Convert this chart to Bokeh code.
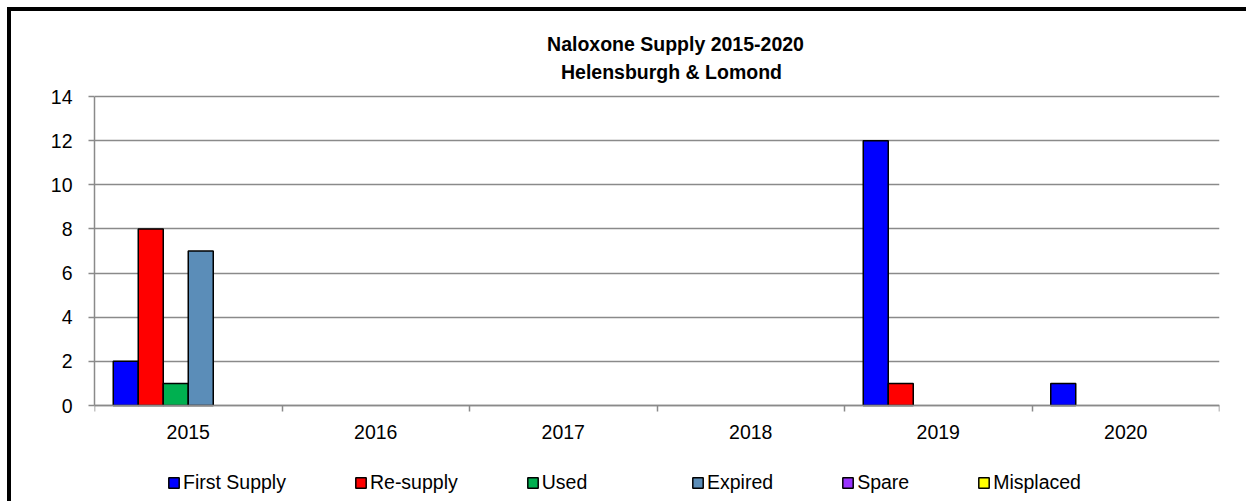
from bokeh.plotting import figure
from bokeh.models import (Range1d, FixedTicker, LinearAxis, Legend, LegendItem, Label,
                          ColumnDataSource, Grid)
from bokeh.embed import file_html
from bokeh.resources import INLINE

title_lines = ["Naloxone Supply 2015-2020", "Helensburgh & Lomond"]
years = ["2015", "2016", "2017", "2018", "2019", "2020"]
series_names = ["First Supply", "Re-supply", "Used", "Expired", "Spare", "Misplaced"]
first_supply = [2, 0, 0, 0, 12, 1]
re_supply = [8, 0, 0, 0, 1, 0]
used = [1, 0, 0, 0, 0, 0]
expired = [7, 0, 0, 0, 0, 0]
spare = [0, 0, 0, 0, 0, 0]
misplaced = [0, 0, 0, 0, 0, 0]
y_ticks = [0, 2, 4, 6, 8, 10, 12, 14]
y_max = 14

series_values = [first_supply, re_supply, used, expired, spare, misplaced]
colors = ["#0000FF", "#FF0000", "#00B050", "#5B8DB8", "#9933FF", "#FFFF00"]

FONT = "Liberation Sans"
GRID = "#8a8a8a"

# layout (pixels): plot area 309 px tall for 0..14, with room above for the
# title (85 px) and below for labels and legend (96 px), all inside the frame
PLOT_H, ABOVE, BELOW = 309, 85, 96
lo = -y_max * BELOW / PLOT_H
hi = y_max * (PLOT_H + ABOVE) / PLOT_H
frame_h = PLOT_H + ABOVE + BELOW

p = figure(frame_width=1125, frame_height=frame_h, output_backend="svg",
           toolbar_location=None,
           x_range=Range1d(0, len(years)), y_range=Range1d(lo, hi),
           x_axis_type=None, y_axis_type=None,
           min_border_left=83, min_border_right=27, min_border_top=0, min_border_bottom=0)
p.title = None
p.styles = {"border-top": "4px solid black", "border-left": "4px solid black",
            "margin-top": "7px", "margin-left": "7px"}
p.outline_line_color = None
p.background_fill_color = "white"
p.border_fill_color = "white"

yaxis = LinearAxis(ticker=FixedTicker(ticks=y_ticks), bounds=(0, y_max))
yaxis.axis_line_color = GRID
yaxis.axis_line_width = 1.5
yaxis.major_tick_line_color = GRID
yaxis.major_tick_line_width = 1.5
yaxis.major_tick_out = 6
yaxis.major_tick_in = 0
yaxis.minor_tick_line_color = None
yaxis.major_label_text_font = FONT
yaxis.major_label_text_font_size = "19.5px"
yaxis.major_label_text_color = "black"
yaxis.major_label_standoff = 16
p.add_layout(yaxis, "left")

centers = [i + 0.5 for i in range(len(years))]
boundaries = list(range(len(years) + 1))
xaxis = LinearAxis(ticker=FixedTicker(ticks=centers, minor_ticks=boundaries), fixed_location=0)
xaxis.major_label_overrides = {c: y for c, y in zip(centers, years)}
xaxis.axis_line_color = GRID
xaxis.axis_line_width = 1.5
xaxis.major_tick_line_color = None
xaxis.major_tick_out = 6
xaxis.major_tick_in = 0
xaxis.minor_tick_line_color = GRID
xaxis.minor_tick_line_width = 1.5
xaxis.minor_tick_out = 6
xaxis.minor_tick_in = 0
xaxis.major_label_text_font = FONT
xaxis.major_label_text_font_size = "19.5px"
xaxis.major_label_text_color = "black"
xaxis.major_label_standoff = 13
p.add_layout(xaxis, "below")

ygrid = Grid(dimension=1, ticker=FixedTicker(ticks=y_ticks), grid_line_color=GRID, grid_line_width=1.5)
p.add_layout(ygrid)

# zero values draw no bar (as in the original): their top is left undefined
bar_w = 0.8 / len(series_names)
items = []
for k, (name, vals, col) in enumerate(zip(series_names, series_values, colors)):
    xs = [c + (k - (len(series_names) - 1) / 2) * bar_w for c in centers]
    tops = [v if v != 0 else float("nan") for v in vals]
    src = ColumnDataSource(dict(x=xs, top=tops, value=vals))
    r = p.vbar(x="x", top="top", bottom=0, width=bar_w, source=src,
               fill_color=col, line_color="black", line_width=1.5)
    items.append(LegendItem(label=name, renderers=[r]))

# title (two centred lines) in screen units from the frame's bottom-left
for txt, cx, base in zip(title_lines, [581, 577], [43 - 11, 71 - 11]):
    p.add_layout(Label(x=cx, y=frame_h - base, x_units="screen", y_units="screen",
                       text=txt, text_align="center", text_baseline="alphabetic",
                       text_font=FONT, text_font_size="19.5px", text_font_style="bold",
                       text_color="black"))

legend_kw = dict(orientation="horizontal", glyph_width=13, glyph_height=13,
                 label_standoff=3, spacing=68, label_text_font=FONT,
                 label_text_font_size="19.5px", label_text_color="black",
                 border_line_color=None, background_fill_alpha=0, padding=0, margin=0)
p.add_layout(Legend(items=items[:3], location=(73, 7), **legend_kw), "center")
p.add_layout(Legend(items=items[3:], location=(597, 7), **legend_kw), "center")

open("out.html", "w").write(file_html(p, INLINE))
